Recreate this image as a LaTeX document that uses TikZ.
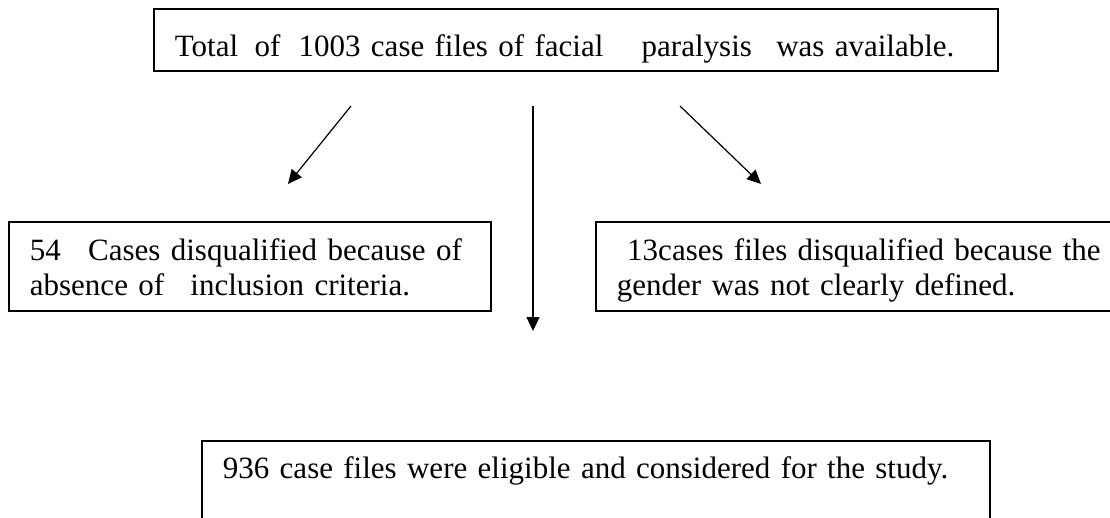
\documentclass[tikz,border=0pt]{standalone}
\usepackage{fontspec}
\setmainfont{Liberation Serif}
\usetikzlibrary{arrows.meta}

\tikzset{
  flowbox/.style={draw, line width=1.8pt, rectangle, anchor=north west,
    inner xsep=21pt, inner ysep=0pt, align=left,
    font=\fontsize{31}{35}\selectfont},
  flowarrow/.style={line width=1.2pt, -{Triangle[length=14pt,width=13pt]}}
}

\begin{document}
\begin{tikzpicture}[x=1pt, y=-1pt]
  \clip (0,0) rectangle (1110,517);
  \fill[white] (0,0) rectangle (1110,517);

  % source box
  \node[flowbox, text width=802pt, text height=48pt, text depth=14pt] (total) at (153,8)
    {\mbox{Total\hspace{6pt} of\hspace{8pt} 1003 case files of facial\hspace{28pt} paralysis\hspace{14pt} was available.}};

  % exclusion boxes
  \node[flowbox, text width=440pt, text height=39pt, text depth=50pt] (excl1) at (8,221)
    {\mbox{54\hspace{17pt} Cases disqualified because of}\\
     \mbox{absence of\hspace{16pt} inclusion criteria.}};

  \node[flowbox, text width=498pt, text height=39pt, text depth=50pt] (excl2) at (595,221)
    {\mbox{\ 13cases files disqualified because the}\\
     \mbox{gender was not clearly defined.}};

  % final cohort box (continues below the page edge)
  \node[flowbox, text width=746pt, text height=38pt, text depth=100pt] (final) at (201,440)
    {\mbox{936 case files were eligible and considered for the study.}};

  % arrow end points
  \coordinate (a1s) at (351,106);
  \coordinate (a1e) at (288,184);
  \coordinate (a2s) at (533,106);
  \coordinate (a2e) at (533,331);
  \coordinate (a3s) at (680,106);
  \coordinate (a3e) at (761,184);

  \draw[flowarrow] (a1s) -- (a1e);
  \draw[flowarrow] (a2s) -- (a2e);
  \draw[flowarrow] (a3s) -- (a3e);
\end{tikzpicture}
\end{document}
